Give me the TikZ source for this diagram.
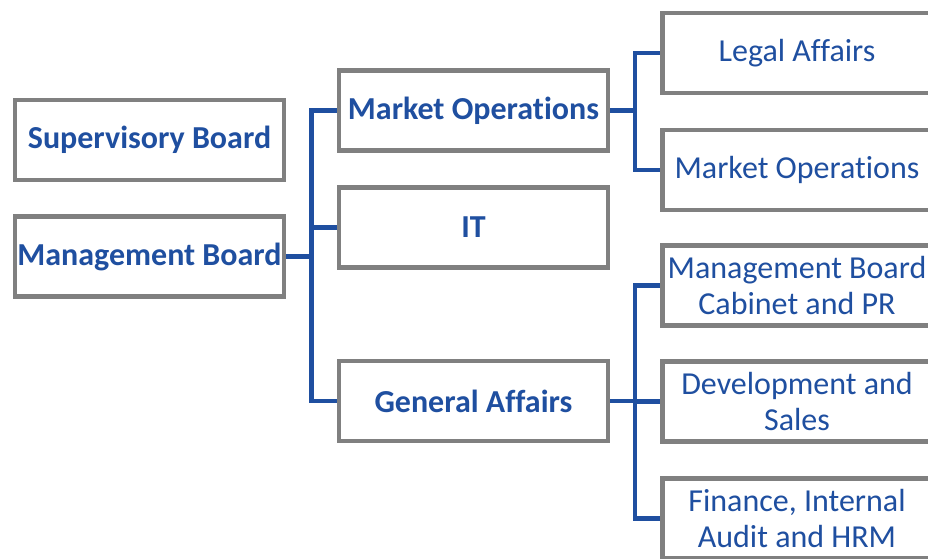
\documentclass[tikz,border=0pt]{standalone}
\usepackage{fontspec}
\setmainfont{Carlito}[Ligatures=NoCommon]
\usetikzlibrary{backgrounds}
\definecolor{boxgrey}{HTML}{808080}
\definecolor{orgblue}{HTML}{1F4FA0}
\begin{document}
\begin{tikzpicture}[x=0.75pt,y=-0.75pt]
%\draw[help lines] (0,0) grid (928,559);
\tikzstyle{unit}=[draw=boxgrey,line width=3.4pt,fill=white,minimum width=202pt,minimum height=60pt,inner sep=0pt,align=center,text=orgblue,font=\fontsize{24pt}{27pt}\selectfont]
\tikzstyle{board}=[unit,font=\fontsize{24pt}{27pt}\selectfont\bfseries]
\tikzstyle{edge} = [draw=orgblue,line width=3.4pt,line join=miter]

\useasboundingbox (0,0) rectangle (928,559);
\clip (0,0) rectangle (928,559);

\draw (149.5,140) node[board] (sb) {Supervisory Board};
\draw (149.5,256.5) node[board] (mb) {Management Board};

\draw (473.5,110.5) node[board] (mo) {Market Operations};
\draw (473.5,227.5) node[board] (it) {IT};
\draw (473.5,401) node[board] (ga) {General Affairs};

\draw (797,53) node[unit] (la) {Legal Affairs};
\draw (797,170) node[unit] (mops) {Market Operations};
\draw (797,285.5) node[unit] (cab) {Management Board\\Cabinet and PR};
\draw (797,401.5) node[unit] (ds) {Development and\\Sales};
\draw (797,518.5) node[unit] (fin) {Finance, Internal\\Audit and HRM};

\coordinate (j1) at (311.5,0);
\coordinate (j2) at (635,0);

\begin{pgfonlayer}{background}
\draw[edge] (mb.east) -- (mb.east -| j1);
\draw[edge] (mo.west) -| (j1 |- ga.west) -- (ga.west);
\draw[edge] (it.west) -- (it.west -| j1);

\draw[edge] (mo.east) -- (mo.east -| j2);
\draw[edge] (la.west) -| (j2 |- mops.west) -- (mops.west);

\draw[edge] (ga.east) -- (ga.east -| j2);
\draw[edge] (cab.west) -| (j2 |- fin.west) -- (fin.west);
\draw[edge] (ds.west) -- (ds.west -| j2);
\end{pgfonlayer}
\end{tikzpicture}
\end{document}
